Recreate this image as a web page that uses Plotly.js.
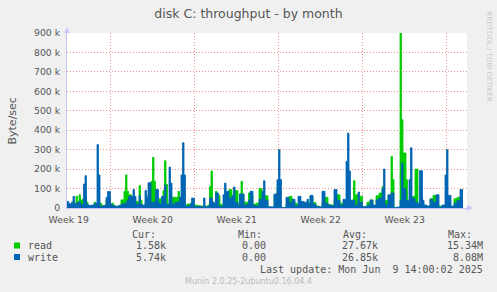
<!DOCTYPE html>
<html>
<head>
<meta charset="utf-8">
<script src="https://cdn.plot.ly/plotly-3.0.1.min.js"></script>
<style>html,body{margin:0;padding:0;background:#f0f0f0;}#chart{width:497px;height:292px;}</style>
</head>
<body>
<div id="chart"></div>
<script>
// ---- data ----
const startTime = '2025-05-08 08:40';
const endTime = '2025-06-10 16:40';
const stepHours = 3;
const weekLabels = ['Week 19', 'Week 20', 'Week 21', 'Week 22', 'Week 23'];
const weekMids = ['2025-05-08 12:00', '2025-05-15 12:00', '2025-05-22 12:00', '2025-05-29 12:00', '2025-06-05 12:00'];
const weekStart = '2025-05-12 00:00';
const yTickVals = [0, 100000, 200000, 300000, 400000, 500000, 600000, 700000, 800000, 900000];
const yTickText = ['0', '100 k', '200 k', '300 k', '400 k', '500 k', '600 k', '700 k', '800 k', '900 k'];
const seriesNames = ['read', 'write'];
const seriesColors = ['#00cc00', '#0066b3'];
// values in kB/s, one per 3 hours
const readK = [10,15,15,20,35,25,60,30,68,40,
 45,45,45,30,12,10,10,8,30,20,
 25,20,25,15,10,10,40,30,30,20,
 25,15,8,8,10,15,42,42,86,170,
 86,68,68,40,34,30,34,34,115,40,
 10,10,28,28,72,72,137,260,137,48,
 48,48,48,48,90,243,122,20,40,40,
 55,55,55,55,86,55,30,30,15,15,
 20,20,25,25,20,15,15,12,12,10,
 10,10,10,10,15,111,190,30,20,86,
 64,64,20,15,15,15,77,77,95,95,
 40,40,90,90,20,72,137,72,30,30,
 30,77,64,64,20,20,25,25,100,100,
 40,40,63,63,5,3,2,2,60,60,
 110,60,10,1,1,1,25,25,60,60,
 30,30,25,20,20,20,28,28,25,25,
 30,25,60,60,28,28,10,10,5,5,
 30,30,55,55,18,18,15,15,45,45,
 68,68,25,25,20,20,30,30,35,35,
 40,140,68,68,25,60,60,5,4,4,
 30,30,42,42,10,10,63,63,77,77,
 110,40,40,40,63,63,265,146,2,2,
 3,3,900,454,283,283,145,20,20,20,
 60,60,200,200,20,20,25,25,10,10,
 5,5,48,48,65,65,15,15,10,10,
 10,10,10,10,10,10,5,5,48,48,
 55,55,40,40];
const writeK = [34,25,20,30,60,20,25,30,34,20,
 15,123,166,20,15,12,15,15,20,25,
 326,170,10,8,12,15,55,85,85,20,
 15,10,10,8,12,12,20,20,25,25,
 40,60,60,60,95,60,20,20,63,20,
 15,15,90,55,130,130,30,30,30,95,
 95,25,20,60,60,118,20,15,210,128,
 20,20,30,30,30,55,170,336,170,10,
 10,10,20,51,51,8,8,8,8,6,
 6,51,6,6,8,51,51,30,25,77,
 77,10,10,8,68,128,86,86,51,51,
 64,108,30,30,10,72,72,72,15,15,
 20,40,86,86,15,12,12,12,45,45,
 86,140,40,40,8,6,6,6,72,72,
 146,300,146,3,3,3,55,55,30,30,
 45,45,12,12,60,60,34,34,30,30,
 45,20,65,65,20,20,8,8,6,6,
 86,86,25,25,15,15,12,12,95,95,
 40,40,15,15,45,45,240,385,190,40,
 40,40,15,15,82,30,30,8,8,8,
 15,15,40,40,15,15,42,42,51,51,
 100,200,17,17,68,68,77,77,3,3,
 5,5,40,230,100,100,40,40,146,310,
 51,51,30,30,20,192,192,40,15,15,
 10,10,45,45,30,30,68,68,5,5,
 15,15,170,300,65,65,10,10,25,25,
 40,40,95,95];
const statHeaders = ['Cur:', 'Min:', 'Avg:', 'Max:'];
const readStats = ['1.58k', '0.00', '27.67k', '15.34M'];
const writeStats = ['5.74k', '0.00', '26.85k', '8.08M'];
const lastUpdate = 'Last update: Mon Jun\u00a0\u00a09 14:00:02 2025';
const versionText = 'Munin 2.0.25-2ubuntu0.16.04.4';
const sideText = 'RRDTOOL / TOBI OETIKER';
const titleText = 'disk C: throughput - by month';
const yTitle = 'Byte/sec';

// ---- build ----
function fmt(ms){
  const d = new Date(ms);
  const p = n => String(n).padStart(2,'0');
  return d.getUTCFullYear()+'-'+p(d.getUTCMonth()+1)+'-'+p(d.getUTCDate())+' '+p(d.getUTCHours())+':'+p(d.getUTCMinutes());
}
const t0 = Date.parse(startTime.replace(' ','T')+':00Z');
function timesFor(n){
  const arr = [];
  for(let i=0;i<=n;i++) arr.push(fmt(t0 + i*stepHours*3600000));
  return arr;
}
function stepSeries(vals){ const v = vals.map(k=>k*1000); v.push(v[v.length-1]); return v; }

const traces = [readK, writeK].map((vals, idx) => ({
  x: timesFor(vals.length), y: stepSeries(vals), name: seriesNames[idx],
  type: 'scatter', mode: 'lines', fill: 'tozeroy',
  fillcolor: seriesColors[idx], line: {shape: 'hv', color: seriesColors[idx], width: 0.8},
  hoverinfo: 'skip', showlegend: false
}));

const L = 67, T = 33, PW = 400, PH = 175;
const px = v => (v - L) / PW;
const py = v => (T + PH - v) / PH;
const mono = {family: 'DejaVu Sans Mono', size: 10, color: '#555'};
const ann = [];
function add(text, x, y, xanchor, font, extra){
  ann.push(Object.assign({text, x: px(x), y: py(y), xref: 'paper', yref: 'paper', xanchor, yanchor: 'middle', showarrow: false, font, borderpad: 0}, extra||{}));
}
const headerX = [131, 237, 342, 447];
statHeaders.forEach((h,i)=>add(h, headerX[i], 234, 'left', mono));
const valX = [167, 267, 379, 484];
[readStats, writeStats].forEach((row, r)=>{
  add(seriesNames[r], 27, r ? 257.3 : 245.7, 'left', mono);
  row.forEach((s,i)=>add(s, valX[i], r ? 257.3 : 245.7, 'right', mono));
});
add(lastUpdate, 484, 269.3, 'right', mono);
add(versionText, 248.5, 281.7, 'center', {family: 'DejaVu Sans', size: 8, color: '#bbb'});
add(sideText, 488, 56.5, 'center', {family: 'DejaVu Sans', size: 7, color: '#c8c8c8'}, {textangle: 90});
add(yTitle, 12, 120.5, 'center', {family: 'DejaVu Sans', size: 11, color: '#555'}, {textangle: -90});

const shapes = [];
function rect(x0,y0,x1,y1,color){ shapes.push({type:'rect', xref:'paper', yref:'paper', x0:px(x0), x1:px(x1), y0:py(y1), y1:py(y0), fillcolor:color, line:{width:0}}); }
rect(14, 242.5, 20, 248.5, seriesColors[0]);
rect(14, 254, 20, 260, seriesColors[1]);
const axisCol = '#c8c8f8';
shapes.push({type:'path', xref:'paper', yref:'paper', path:`M ${px(64)} ${py(33)} L ${px(70)} ${py(33)} L ${px(67)} ${py(27)} Z`, fillcolor: axisCol, line:{width:0}});
shapes.push({type:'path', xref:'paper', yref:'paper', path:`M ${px(467)} ${py(205)} L ${px(467)} ${py(211)} L ${px(473)} ${py(208)} Z`, fillcolor: axisCol, line:{width:0}});

const gridCol = '#ec8f8f';
const layout = {
  width: 497, height: 292,
  margin: {l: L, r: 497 - L - PW, t: T, b: 292 - T - PH, pad: 0},
  paper_bgcolor: '#f0f0f0', plot_bgcolor: '#ffffff',
  title: {text: titleText, x: 0.5, xref: 'container', xanchor: 'center', y: 1 - 13.5/292, yref: 'container', yanchor: 'middle',
    font: {family: 'DejaVu Sans', size: 12.5, color: '#555'}},
  xaxis: {type: 'date', range: [startTime, endTime], tickmode: 'array', tickvals: weekMids, ticktext: weekLabels,
    showgrid: false, zeroline: false, showline: true, linecolor: axisCol, linewidth: 1, ticks: '', ticklabelstandoff: 3,
    tickfont: {family: 'DejaVu Sans', size: 9.3, color: '#555'},
    minor: {tick0: weekStart, dtick: 7*86400000, showgrid: true, gridcolor: gridCol, griddash: '1px,2px', gridwidth: 1, ticks: ''},
    fixedrange: true},
  yaxis: {range: [0, 900000], tickmode: 'array', tickvals: yTickVals, ticktext: yTickText,
    showgrid: true, gridcolor: gridCol, griddash: '1px,2px', gridwidth: 1, zeroline: false,
    showline: true, linecolor: axisCol, linewidth: 1, ticks: '', ticklabelstandoff: 4,
    tickfont: {family: 'DejaVu Sans', size: 9.3, color: '#555'}, fixedrange: true},
  annotations: ann, shapes: shapes, showlegend: false
};
Plotly.newPlot('chart', traces, layout, {staticPlot: true, displayModeBar: false});
</script>
</body>
</html>
